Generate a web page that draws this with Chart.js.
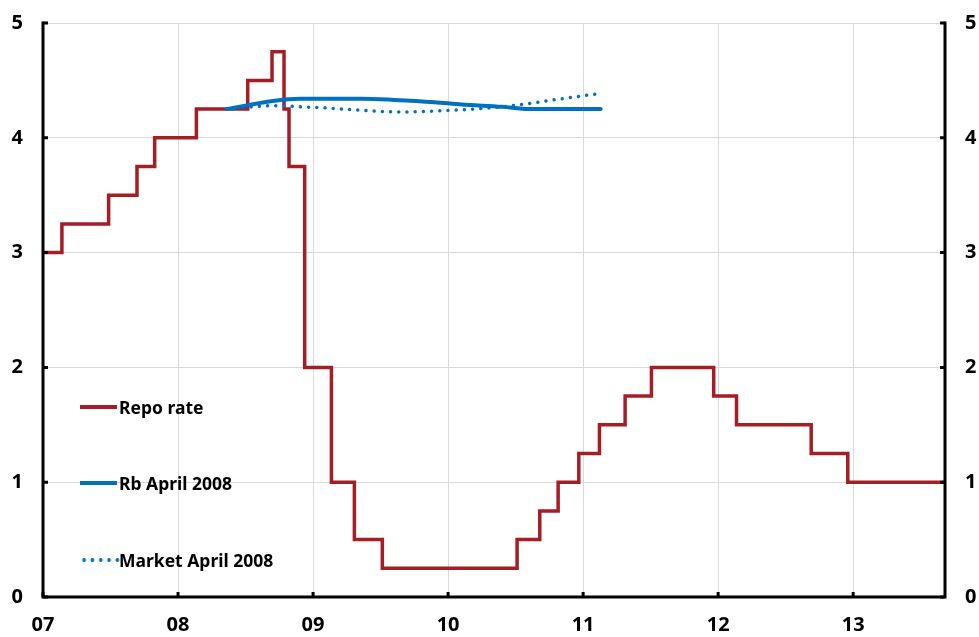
<!DOCTYPE html>
<html>
<head>
<meta charset="utf-8">
<script src="https://cdn.jsdelivr.net/npm/chart.js@4"></script>
<style>
  html, body { margin: 0; padding: 0; background: #fff; }
  #wrap { position: relative; width: 979px; height: 637px; overflow: hidden; }
  .legend { position: absolute; left: 80px; top: 0; font: bold 17.5px 'Noto Sans', sans-serif; color: #000; }
  .legend .item { position: absolute; left: 0; white-space: nowrap; height: 20px; line-height: 20px; }
  .legend .swatch { position: absolute; left: 0; top: 50%; width: 37px; }
  .legend .text { position: absolute; left: 39px; top: 0; }
</style>
</head>
<body>
<div id="wrap">
  <canvas id="repoChart"></canvas>
  <div class="legend" id="legend"></div>
</div>
<script>
/* ═══════════════════════════════════════════════
   DATA
═══════════════════════════════════════════════ */
// Repo rate: value that applies from each date (decimal year)
const repoDates = [2007.0, 2007.14, 2007.486, 2007.696, 2007.827, 2008.136, 2008.516, 2008.696, 2008.785,
  2008.822, 2008.938, 2009.136, 2009.306, 2009.513, 2010.511, 2010.679, 2010.815, 2010.968,
  2011.121, 2011.311, 2011.506, 2011.967, 2012.136, 2012.689, 2012.96, 2013.68];
const repoRates = [3.0, 3.25, 3.5, 3.75, 4.0, 4.25, 4.5, 4.75, 4.25,
  3.75, 2.0, 1.0, 0.5, 0.25, 0.5, 0.75, 1.0, 1.25,
  1.5, 1.75, 2.0, 1.75, 1.5, 1.25, 1.0, 1.0];

// Riksbank repo rate path, April 2008
const rbDates = [2008.36, 2008.5, 2008.7, 2008.9, 2009.1, 2009.36, 2009.6, 2009.9, 2010.1, 2010.4, 2010.6, 2011.13];
const rbValues = [4.25, 4.28, 4.32, 4.34, 4.34, 4.34, 4.33, 4.31, 4.29, 4.27, 4.25, 4.25];

// Market expectations, April 2008
const marketDates = [2008.36, 2008.55, 2008.73, 2008.9, 2009.1, 2009.28, 2009.65, 2009.94, 2010.19, 2010.48, 2010.78, 2011.09];
const marketValues = [4.25, 4.27, 4.28, 4.27, 4.26, 4.245, 4.225, 4.235, 4.25, 4.28, 4.33, 4.38];

const yearTicks = [2007, 2008, 2009, 2010, 2011, 2012, 2013];
const yearLabels = ['07', '08', '09', '10', '11', '12', '13'];
const rateTicks = [0, 1, 2, 3, 4, 5];

const RED = '#A51E26';
const BLUE = '#0070C0';
const GRID = '#D9D9D9';
const TICK_FONT = { family: "'Noto Sans', sans-serif", size: 20, weight: 'bold' };

const toPoints = (xs, ys) => xs.map((x, i) => ({ x, y: ys[i] }));

// keep the layout from reserving label overhang, so the plot box sits where it should
const noOverhang = s => { s.paddingTop = 0; s.paddingBottom = 0; s.paddingLeft = 0; s.paddingRight = 0; };

// Inward tick marks and black axis frame (left, bottom, right)
const axisFrame = {
  id: 'axisFrame',
  afterDatasetsDraw(chart) {
    const { ctx, chartArea: a, scales } = chart;
    ctx.save();
    ctx.strokeStyle = '#000';
    ctx.lineWidth = 3;
    ctx.lineCap = 'butt';
    ctx.beginPath();
    ctx.moveTo(a.left, a.top - 1.5);
    ctx.lineTo(a.left, a.bottom);
    ctx.lineTo(a.right, a.bottom);
    ctx.lineTo(a.right, a.top - 1.5);
    ctx.stroke();
    ctx.beginPath();
    rateTicks.forEach(v => {
      const py = scales.y.getPixelForValue(v);
      ctx.moveTo(a.left, py); ctx.lineTo(a.left + 5, py);
      ctx.moveTo(a.right, py); ctx.lineTo(a.right - 5, py);
    });
    yearTicks.forEach(v => {
      const px = scales.x.getPixelForValue(v);
      ctx.moveTo(px, a.bottom); ctx.lineTo(px, a.bottom - 5);
    });
    ctx.stroke();
    ctx.restore();
  }
};

const chart = new Chart(document.getElementById('repoChart'), {
  type: 'line',
  data: {
    datasets: [
      {
        label: 'Repo rate',
        data: toPoints(repoDates, repoRates),
        borderColor: RED,
        borderWidth: 3.5,
        stepped: 'before',
        pointRadius: 0,
        order: 3
      },
      {
        label: 'Rb April 2008',
        data: toPoints(rbDates, rbValues),
        borderColor: BLUE,
        borderWidth: 4,
        cubicInterpolationMode: 'monotone',
        borderCapStyle: 'round',
        pointRadius: 0,
        order: 1
      },
      {
        label: 'Market April 2008',
        data: toPoints(marketDates, marketValues),
        borderColor: BLUE,
        borderWidth: 3.5,
        borderDash: [0.01, 8.2],
        borderCapStyle: 'round',
        cubicInterpolationMode: 'monotone',
        pointRadius: 0,
        order: 2
      }
    ]
  },
  options: {
    responsive: true,
    maintainAspectRatio: false,
    animation: false,
    layout: { padding: { top: 23, left: 0, right: 0, bottom: 0 } },
    plugins: { legend: { display: false }, tooltip: { enabled: false } },
    scales: {
      x: {
        type: 'linear',
        min: 2007,
        max: 2013.68,
        afterBuildTicks: s => { s.ticks = yearTicks.map(v => ({ value: v })); },
        afterFit: s => { s.height = 40; noOverhang(s); },
        grid: { color: GRID, lineWidth: 1, drawTicks: false },
        border: { display: false },
        ticks: {
          autoSkip: false,
          maxRotation: 0,
          padding: 16,
          color: '#000',
          font: TICK_FONT,
          callback: v => yearLabels[yearTicks.indexOf(v)]
        }
      },
      y: {
        position: 'left',
        min: 0,
        max: 5,
        afterBuildTicks: s => { s.ticks = rateTicks.map(v => ({ value: v })); },
        afterFit: s => { s.width = 43; noOverhang(s); },
        grid: { color: GRID, lineWidth: 1, drawTicks: false },
        border: { display: false },
        ticks: { padding: 20, color: '#000', font: TICK_FONT }
      },
      y2: {
        position: 'right',
        display: true,
        min: 0,
        max: 5,
        afterBuildTicks: s => { s.ticks = rateTicks.map(v => ({ value: v })); },
        afterFit: s => { s.width = 34; noOverhang(s); },
        grid: { display: false, drawTicks: false },
        border: { display: false },
        ticks: { padding: 20, color: '#000', font: TICK_FONT }
      }
    }
  },
  plugins: [axisFrame]
});

// HTML legend inside the plot, built from the datasets
const legendRows = [407, 483, 560];
const legendEl = document.getElementById('legend');
chart.data.datasets.forEach((ds, i) => {
  const item = document.createElement('div');
  item.className = 'item';
  item.style.top = (legendRows[i] - 10) + 'px';
  const sw = document.createElement('div');
  sw.className = 'swatch';
  if (ds.borderDash) {
    // round dots, same spacing as the plotted dotted line
    sw.style.height = '4px';
    sw.style.marginTop = '-2px';
    sw.style.width = '40px';
    sw.style.background = 'radial-gradient(circle, ' + ds.borderColor + ' 1.6px, transparent 2.1px) 0 0 / 8.3px 4px repeat-x';
  } else {
    sw.style.height = ds.borderWidth + 'px';
    sw.style.marginTop = (-ds.borderWidth / 2) + 'px';
    sw.style.background = ds.borderColor;
  }
  const tx = document.createElement('span');
  tx.className = 'text';
  tx.textContent = ds.label;
  item.appendChild(sw);
  item.appendChild(tx);
  legendEl.appendChild(item);
});
</script>
</body>
</html>
